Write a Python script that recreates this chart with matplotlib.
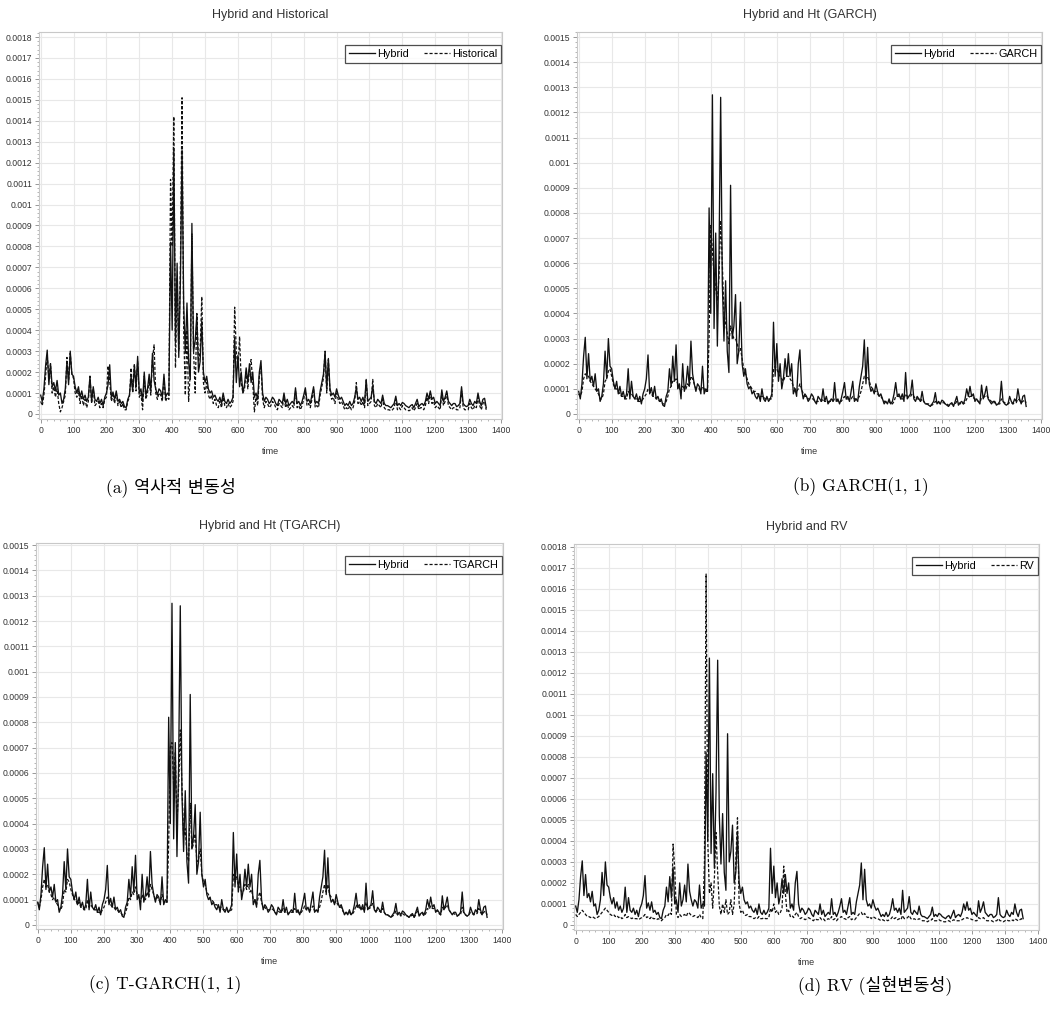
import numpy as np
import matplotlib
matplotlib.use("Agg")
import matplotlib.pyplot as plt
from matplotlib.ticker import MultipleLocator, FuncFormatter

plt.rcParams['font.family'] = ['Liberation Sans', 'DejaVu Sans']

# time index, every 5th observation
time = np.arange(0, 1360, 5)

# values, in units of 1e-4
hybrid = [
    0.9, 0.6, 1.2, 2.3, 3.05, 1.4, 2.4, 1.3, 1.5, 1.1, 1.6, 0.9, 1.0, 0.5, 0.7, 1.2, 2.5, 1.4, 3.0, 1.9,
    1.8, 1.3, 1.0, 1.3, 0.8, 1.1, 0.7, 0.9, 0.6, 0.8, 1.8, 0.6, 1.3, 0.7, 0.6, 0.8, 0.5, 0.7, 0.4, 0.8,
    1.0, 1.4, 2.35, 0.8, 1.05, 0.7, 1.1, 0.6, 0.7, 0.5, 0.6, 0.35, 0.3, 0.7, 0.9, 1.8, 1.1, 2.3, 1.3, 2.75,
    1.0, 1.2, 0.6, 2.0, 0.9, 1.2, 1.9, 1.1, 2.9, 1.6, 1.2, 0.9, 1.2, 1.1, 0.8, 1.9, 0.8, 1.0, 0.9, 8.2,
    4.0, 12.7, 3.4, 7.2, 2.7, 6.3, 12.6, 5.2, 2.9, 5.3, 2.5, 1.65, 9.1, 3.0, 3.5, 4.75, 2.0, 2.5, 4.45, 2.0,
    1.5, 1.8, 1.2, 1.0, 1.1, 0.8, 0.9, 0.7, 0.6, 0.8, 0.5, 1.0, 0.6, 0.5, 0.7, 0.5, 0.6, 0.8, 3.65, 1.5,
    2.8, 1.3, 2.0, 1.0, 1.4, 2.2, 1.5, 2.4, 1.5, 2.0, 0.8, 1.0, 0.7, 2.0, 2.55, 1.0, 0.6, 0.8, 0.7, 0.5,
    0.6, 0.8, 0.7, 0.5, 0.4, 0.7, 0.6, 0.5, 1.0, 0.5, 0.7, 0.4, 0.5, 0.6, 0.5, 1.25, 0.5, 0.6, 0.4, 0.6,
    0.9, 1.25, 0.6, 0.7, 0.5, 0.9, 1.3, 0.5, 0.6, 0.5, 1.1, 1.5, 1.9, 2.95, 1.2, 2.65, 1.2, 0.9, 1.0, 0.8,
    1.2, 0.9, 0.7, 0.8, 0.6, 0.4, 0.5, 0.4, 0.6, 0.4, 0.5, 0.8, 1.25, 0.7, 0.8, 0.6, 0.8, 0.5, 1.65, 0.6,
    0.7, 0.8, 1.35, 0.6, 0.5, 0.7, 0.6, 0.5, 0.9, 0.5, 0.4, 0.4, 0.35, 0.3, 0.4, 0.5, 0.85, 0.4, 0.5, 0.4,
    0.55, 0.5, 0.4, 0.35, 0.3, 0.4, 0.45, 0.3, 0.5, 0.7, 0.35, 0.45, 0.5, 0.4, 0.6, 1.0, 0.7, 1.1, 0.7, 0.8,
    0.5, 0.6, 0.5, 0.4, 1.15, 0.6, 0.8, 1.1, 0.6, 0.5, 0.4, 0.5, 0.5, 0.35, 0.4, 0.5, 1.3, 0.5, 0.4, 0.35,
    0.4, 0.7, 0.5, 0.4, 0.6, 0.5, 1.0, 0.6, 0.4, 0.7, 0.75, 0.3,
]

historical = [
    0.6, 0.4, 0.9, 1.8, 2.8, 1.7, 2.4, 1.0, 1.3, 0.8, 1.2, 0.5, 0.1, 0.3, 0.6, 0.9, 2.7, 1.6, 2.9, 1.9,
    1.7, 1.0, 0.8, 1.1, 0.5, 0.9, 0.4, 0.7, 0.3, 0.6, 1.8, 0.5, 1.2, 0.4, 0.5, 0.6, 0.3, 0.5, 0.3, 0.7,
    0.8, 2.3, 1.6, 0.6, 0.9, 0.5, 1.0, 0.4, 0.6, 0.3, 0.5, 0.2, 0.2, 0.6, 0.8, 2.2, 1.0, 2.4, 1.1, 2.5,
    0.8, 1.0, 0.2, 1.8, 0.7, 1.0, 1.6, 0.9, 2.6, 3.3, 1.0, 0.7, 1.0, 0.9, 0.6, 1.7, 0.6, 0.8, 0.7, 11.2,
    8.0, 14.2, 2.2, 6.5, 3.0, 7.0, 15.1, 4.0, 0.9, 4.0, 0.6, 2.0, 8.6, 3.0, 1.0, 4.8, 2.5, 3.0, 5.6, 1.5,
    1.0, 1.5, 0.9, 0.7, 0.9, 0.5, 0.7, 0.4, 0.3, 0.6, 0.3, 0.8, 0.4, 0.3, 0.5, 0.3, 0.4, 0.6, 5.1, 3.0,
    2.2, 3.7, 1.5, 1.0, 1.2, 2.0, 1.2, 2.2, 2.6, 1.5, 0.1, 0.8, 0.4, 1.8, 2.3, 0.7, 0.3, 0.6, 0.5, 0.3,
    0.4, 0.6, 0.5, 0.3, 0.2, 0.5, 0.4, 0.3, 0.8, 0.3, 0.5, 0.2, 0.3, 0.4, 0.3, 1.1, 0.3, 0.4, 0.2, 0.4,
    0.7, 1.1, 0.4, 0.5, 0.3, 0.7, 1.2, 0.3, 0.4, 0.3, 0.9, 1.3, 1.7, 3.0, 1.0, 2.6, 1.0, 0.7, 0.8, 0.5,
    1.0, 0.7, 0.5, 0.6, 0.4, 0.2, 0.3, 0.2, 0.4, 0.2, 0.3, 0.6, 1.5, 0.5, 0.6, 0.4, 0.6, 0.3, 1.6, 0.4,
    0.5, 0.6, 1.65, 0.4, 0.3, 0.5, 0.4, 0.3, 0.7, 0.3, 0.2, 0.2, 0.2, 0.15, 0.2, 0.3, 0.7, 0.2, 0.3, 0.2,
    0.4, 0.3, 0.2, 0.2, 0.15, 0.2, 0.3, 0.15, 0.3, 0.5, 0.2, 0.3, 0.3, 0.2, 0.4, 0.8, 0.5, 1.0, 0.5, 0.6,
    0.3, 0.4, 0.3, 0.2, 1.0, 0.4, 0.6, 1.0, 0.4, 0.3, 0.2, 0.3, 0.3, 0.2, 0.2, 0.3, 1.1, 0.3, 0.2, 0.2,
    0.2, 0.5, 0.3, 0.2, 0.4, 0.3, 0.8, 0.4, 0.2, 0.5, 0.6, 0.2,
]

garch = [
    0.8, 0.7, 0.9, 1.4, 1.6, 1.5, 1.5, 1.3, 1.2, 1.1, 1.0, 0.9, 0.8, 0.6, 0.6, 0.8, 1.3, 1.4, 1.7, 1.8,
    1.5, 1.2, 1.0, 1.0, 0.9, 0.8, 0.7, 0.7, 0.6, 0.6, 0.9, 0.8, 0.8, 0.7, 0.6, 0.6, 0.5, 0.5, 0.5, 0.6,
    0.7, 0.8, 1.0, 0.9, 0.8, 0.7, 0.7, 0.6, 0.6, 0.5, 0.5, 0.4, 0.4, 0.5, 0.7, 1.0, 1.1, 1.3, 1.3, 1.4,
    1.2, 1.0, 0.9, 1.1, 1.0, 1.0, 1.2, 1.1, 1.5, 1.4, 1.2, 1.0, 1.0, 1.0, 0.9, 1.1, 1.0, 0.9, 0.9, 3.0,
    7.5, 6.5, 5.5, 5.0, 4.5, 5.5, 7.7, 6.0, 4.0, 3.6, 3.2, 2.8, 3.5, 3.2, 3.0, 3.0, 2.8, 2.5, 2.6, 2.2,
    1.8, 1.6, 1.4, 1.2, 1.1, 1.0, 0.9, 0.9, 0.8, 0.8, 0.7, 0.7, 0.7, 0.6, 0.6, 0.6, 0.6, 0.6, 1.8, 1.9,
    1.8, 1.6, 1.5, 1.4, 1.3, 1.5, 1.5, 1.5, 1.4, 1.3, 1.1, 1.0, 0.9, 1.0, 1.2, 1.0, 0.8, 0.7, 0.7, 0.6,
    0.6, 0.6, 0.6, 0.5, 0.5, 0.5, 0.5, 0.5, 0.6, 0.5, 0.5, 0.5, 0.5, 0.5, 0.5, 0.6, 0.6, 0.5, 0.5, 0.5,
    0.6, 0.7, 0.6, 0.6, 0.6, 0.6, 0.7, 0.6, 0.6, 0.6, 0.7, 0.9, 1.2, 1.5, 1.4, 1.5, 1.3, 1.1, 1.0, 0.9,
    0.9, 0.8, 0.7, 0.7, 0.6, 0.5, 0.5, 0.5, 0.5, 0.4, 0.4, 0.5, 0.7, 0.7, 0.7, 0.6, 0.6, 0.6, 0.8, 0.7,
    0.7, 0.7, 0.8, 0.7, 0.6, 0.6, 0.6, 0.5, 0.6, 0.5, 0.4, 0.4, 0.4, 0.35, 0.35, 0.4, 0.5, 0.45, 0.45, 0.4,
    0.45, 0.45, 0.4, 0.4, 0.35, 0.35, 0.4, 0.35, 0.4, 0.5, 0.45, 0.4, 0.45, 0.4, 0.45, 0.6, 0.65, 0.7, 0.7, 0.65,
    0.6, 0.55, 0.5, 0.45, 0.65, 0.65, 0.7, 0.75, 0.65, 0.55, 0.5, 0.45, 0.45, 0.4, 0.4, 0.4, 0.6, 0.5, 0.45, 0.4,
    0.4, 0.45, 0.45, 0.4, 0.45, 0.45, 0.6, 0.55, 0.45, 0.5, 0.55, 0.45,
]

tgarch = [
    0.9, 0.7, 1.0, 1.5, 1.8, 1.5, 1.6, 1.3, 1.2, 1.0, 1.1, 0.9, 0.8, 0.6, 0.6, 0.8, 1.4, 1.3, 1.8, 1.7,
    1.4, 1.2, 1.0, 1.0, 0.8, 0.9, 0.7, 0.7, 0.6, 0.6, 1.0, 0.7, 0.8, 0.7, 0.6, 0.6, 0.5, 0.5, 0.45, 0.6,
    0.7, 0.9, 1.1, 0.9, 0.8, 0.7, 0.7, 0.6, 0.6, 0.5, 0.5, 0.4, 0.35, 0.5, 0.7, 1.1, 1.0, 1.3, 1.2, 1.5,
    1.2, 1.1, 0.9, 1.2, 1.0, 1.0, 1.3, 1.1, 1.6, 1.4, 1.2, 1.0, 1.1, 1.0, 0.9, 1.2, 0.9, 0.9, 0.9, 3.2,
    7.0, 7.2, 5.5, 6.8, 4.0, 5.5, 7.7, 5.5, 3.5, 3.8, 2.8, 2.5, 4.8, 3.0, 3.2, 3.6, 2.5, 2.6, 3.0, 2.0,
    1.7, 1.6, 1.3, 1.2, 1.0, 1.0, 0.9, 0.8, 0.8, 0.7, 0.7, 0.7, 0.6, 0.6, 0.6, 0.5, 0.55, 0.6, 2.0, 1.7,
    1.9, 1.5, 1.5, 1.3, 1.3, 1.6, 1.4, 1.6, 1.3, 1.4, 1.0, 1.0, 0.8, 1.1, 1.3, 0.9, 0.7, 0.7, 0.6, 0.6,
    0.6, 0.65, 0.6, 0.5, 0.45, 0.55, 0.5, 0.5, 0.65, 0.5, 0.55, 0.45, 0.5, 0.5, 0.5, 0.65, 0.55, 0.5, 0.45, 0.5,
    0.6, 0.75, 0.6, 0.6, 0.55, 0.65, 0.75, 0.55, 0.6, 0.55, 0.7, 0.95, 1.3, 1.6, 1.3, 1.6, 1.2, 1.1, 1.0, 0.85,
    0.95, 0.8, 0.7, 0.7, 0.55, 0.45, 0.5, 0.45, 0.5, 0.4, 0.45, 0.55, 0.8, 0.65, 0.7, 0.6, 0.65, 0.55, 0.9, 0.65,
    0.65, 0.7, 0.85, 0.65, 0.55, 0.6, 0.55, 0.5, 0.65, 0.5, 0.4, 0.4, 0.35, 0.3, 0.35, 0.4, 0.55, 0.4, 0.45, 0.35,
    0.45, 0.4, 0.35, 0.35, 0.3, 0.35, 0.4, 0.3, 0.4, 0.55, 0.4, 0.4, 0.45, 0.35, 0.45, 0.65, 0.6, 0.75, 0.65, 0.65,
    0.55, 0.55, 0.45, 0.4, 0.7, 0.6, 0.7, 0.8, 0.6, 0.5, 0.45, 0.45, 0.4, 0.35, 0.4, 0.4, 0.7, 0.45, 0.4, 0.35,
    0.4, 0.5, 0.45, 0.4, 0.45, 0.45, 0.65, 0.5, 0.4, 0.5, 0.55, 0.4,
]

rv = [
    0.5, 0.4, 0.5, 0.6, 0.7, 0.6, 0.5, 0.4, 0.4, 0.35, 0.4, 0.35, 0.3, 0.35, 0.4, 0.5, 0.6, 0.7, 0.8, 0.7,
    0.6, 0.5, 0.45, 0.5, 0.4, 0.45, 0.35, 0.4, 0.3, 0.35, 0.5, 0.35, 0.4, 0.35, 0.3, 0.35, 0.3, 0.3, 0.25, 0.3,
    0.35, 0.4, 0.5, 0.35, 0.4, 0.3, 0.4, 0.3, 0.3, 0.25, 0.3, 0.25, 0.2, 0.3, 0.35, 0.5, 0.45, 0.6, 0.5, 3.85,
    2.7, 0.5, 0.35, 0.5, 0.4, 0.45, 0.5, 0.4, 0.6, 0.55, 0.45, 0.4, 0.45, 0.4, 0.35, 0.5, 0.35, 0.3, 3.0, 16.7,
    4.0, 1.5, 2.0, 0.8, 2.2, 4.4, 2.5, 0.9, 0.5, 1.0, 0.6, 1.2, 0.5, 0.6, 1.2, 0.5, 1.0, 3.0, 5.1, 1.0,
    0.6, 0.7, 0.5, 0.45, 0.5, 0.4, 0.4, 0.35, 0.3, 0.35, 0.3, 0.4, 0.3, 0.3, 0.35, 0.3, 0.3, 0.35, 0.8, 0.6,
    1.0, 0.6, 0.7, 0.5, 0.6, 0.8, 2.8, 1.5, 0.6, 0.7, 0.4, 0.45, 0.35, 0.5, 0.6, 0.4, 0.3, 0.35, 0.3, 0.25,
    0.3, 0.35, 0.3, 0.25, 0.2, 0.3, 0.25, 0.25, 0.35, 0.25, 0.3, 0.2, 0.25, 0.3, 0.25, 0.4, 0.25, 0.3, 0.2, 0.3,
    0.35, 0.4, 0.3, 0.3, 0.25, 0.35, 0.4, 0.25, 0.3, 0.25, 0.35, 0.45, 0.55, 0.6, 0.45, 0.55, 0.4, 0.35, 0.4, 0.3,
    0.4, 0.35, 0.3, 0.3, 0.25, 0.2, 0.25, 0.2, 0.25, 0.2, 0.25, 0.3, 0.4, 0.3, 0.35, 0.25, 0.3, 0.25, 0.45, 0.3,
    0.3, 0.35, 0.45, 0.3, 0.25, 0.3, 0.25, 0.25, 0.3, 0.25, 0.2, 0.2, 0.2, 0.15, 0.2, 0.2, 0.3, 0.2, 0.2, 0.2,
    0.25, 0.2, 0.2, 0.15, 0.15, 0.2, 0.2, 0.15, 0.2, 0.25, 0.2, 0.2, 0.2, 0.2, 0.25, 0.3, 0.3, 0.35, 0.3, 0.3,
    0.25, 0.25, 0.2, 0.2, 0.35, 0.3, 0.3, 0.35, 0.25, 0.2, 0.2, 0.2, 0.2, 0.15, 0.2, 0.2, 0.3, 0.2, 0.2, 0.15,
    0.2, 0.25, 0.2, 0.2, 0.25, 0.2, 0.3, 0.25, 0.2, 0.25, 0.3, 0.2,
]

titles = ["Hybrid and Historical", "Hybrid and Ht (GARCH)", "Hybrid and Ht (TGARCH)", "Hybrid and RV"]
labels = ["Historical", "GARCH", "TGARCH", "RV"]
captions = ["(a) 역사적 변동성", "(b) GARCH(1, 1)", "(c) T-GARCH(1, 1)", "(d) RV (실현변동성)"]
others = [historical, garch, tgarch, rv]

W, H = 1057, 1014
fig = plt.figure(figsize=(W / 100, H / 100), dpi=100)

# axes boxes in pixels: left, right, top, bottom
boxes = [(39, 502, 32, 419), (577, 1042, 32, 419), (36, 503, 543, 929), (574, 1039, 544, 930)]
ylims = [(-0.000024, 0.001824), (-0.00002, 0.00152), (-0.000016, 0.001508), (-0.000024, 0.001813)]
caption_pos = [(171, 487), (861, 487), (165, 985), (875, 985)]

fmt = FuncFormatter(lambda v, p: format(round(v, 5), 'g'))

for i in range(4):
    l, r, t, b = boxes[i]
    ax = fig.add_axes([l / W, 1 - b / H, (r - l) / W, (b - t) / H])
    ax.plot(time, np.array(hybrid) * 1e-4, color='#111111', lw=0.95, label='Hybrid')
    ax.plot(time, np.array(others[i]) * 1e-4, color='#111111', lw=0.9,
            dashes=(2.5, 1.5), label=labels[i])
    ax.set_xlim(-5, 1403)
    ax.set_ylim(*ylims[i])
    ax.xaxis.set_major_locator(MultipleLocator(100))
    ax.xaxis.set_minor_locator(MultipleLocator(20))
    ax.yaxis.set_major_locator(MultipleLocator(0.0001))
    ax.yaxis.set_minor_locator(MultipleLocator(0.00002))
    ax.yaxis.set_major_formatter(fmt)
    ax.grid(True, which='major', color='#e8e8e8', lw=0.8)
    ax.set_axisbelow(True)
    for s in ax.spines.values():
        s.set_color('#c8c8c8')
        s.set_linewidth(0.8)
    ax.tick_params(which='major', labelsize=6.2, length=3, width=0.6, color='#888888',
                   labelcolor='#333333', pad=2)
    ax.tick_params(which='minor', length=1.5, width=0.5, color='#999999')
    ax.set_xlabel('time', fontsize=6.5, color='#333333', labelpad=9)
    ax.set_title(titles[i], fontsize=9, color='#333333', pad=10)
    leg = ax.legend(loc='upper right', bbox_to_anchor=(1.0, 1 - 12 / (b - t)), ncol=2,
                    fontsize=7.8, frameon=True, fancybox=False, borderaxespad=0.1,
                    handlelength=2.4, handletextpad=0.2, columnspacing=1.4,
                    borderpad=0.35)
    leg.get_frame().set_edgecolor('#222222')
    leg.get_frame().set_linewidth(0.9)
    cx, cy = caption_pos[i]
    fig.text(cx / W, 1 - cy / H, captions[i], ha='center', va='center', fontsize=12.5,
             family=['cmr10', 'Noto Sans CJK KR'])

fig.savefig('out.png', dpi=100)
